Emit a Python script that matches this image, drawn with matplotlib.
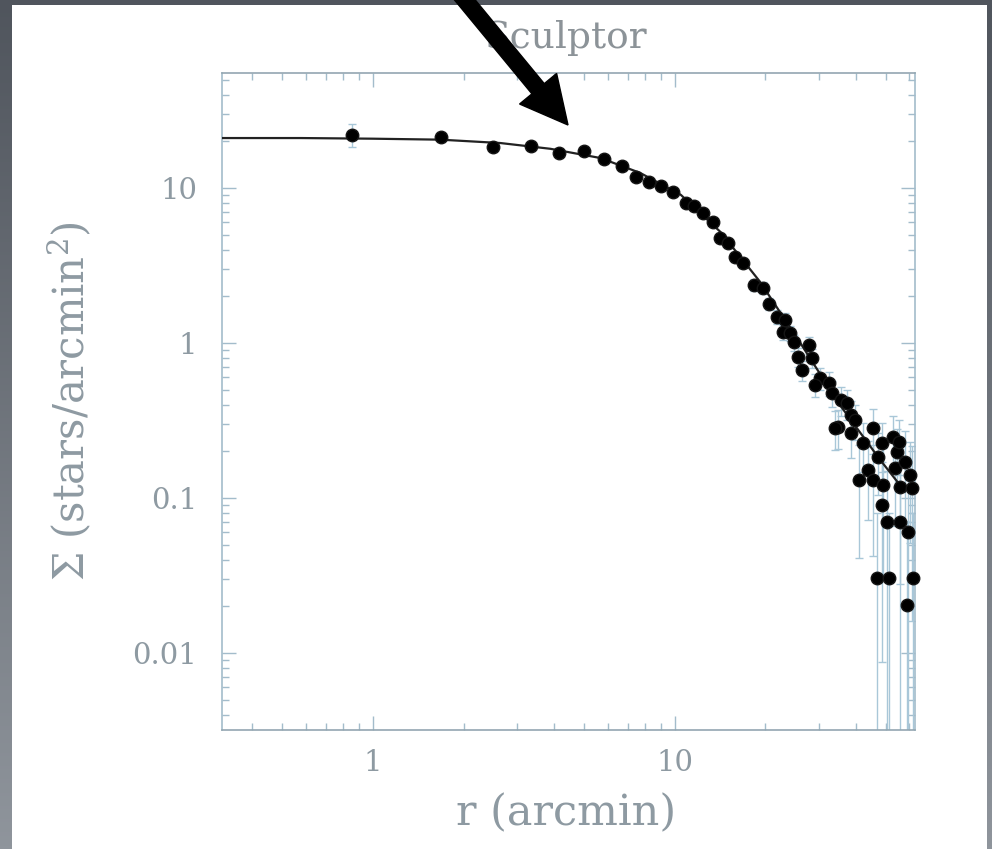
import numpy as np
import matplotlib
matplotlib.use("Agg")
import matplotlib.pyplot as plt
from matplotlib.patches import Rectangle, FancyArrow
from matplotlib.ticker import LogLocator, NullFormatter

# surface density profile points (r in arcmin, sigma in stars/arcmin^2)
r_pts = [0.852, 1.68, 2.50, 3.34, 4.13, 5.00, 5.82, 6.68, 7.43, 8.20,
         8.99, 9.85, 10.9, 11.6, 12.4, 13.4, 14.2, 15.0, 15.9, 16.9,
         18.3, 19.6, 20.5, 21.9, 22.8, 24.2, 23.3, 24.8, 27.8, 25.7,
         28.6, 26.5, 30.4, 29.3, 32.4, 33.3, 35.5, 37.4, 38.3, 34.9,
         39.7, 38.3, 42.0, 45.3, 48.8, 53.1, 54.7, 47.3, 34.1, 55.2,
         43.9, 40.7, 45.6, 49.2, 53.9, 58.2, 60.4, 56.0, 61.4, 48.8,
         50.7, 56.0, 59.5, 47.0, 51.2, 61.8, 59.1]
sigma_pts = [22.0, 21.3, 18.4, 18.7, 16.8, 17.3, 15.4, 13.9, 11.8, 10.9,
             10.3, 9.43, 8.00, 7.65, 6.90, 6.04, 4.76, 4.42, 3.59, 3.28,
             2.37, 2.26, 1.79, 1.47, 1.18, 1.16, 1.41, 1.01, 0.971, 0.813,
             0.800, 0.670, 0.594, 0.536, 0.552, 0.476, 0.428, 0.410, 0.343, 0.287,
             0.318, 0.262, 0.226, 0.283, 0.226, 0.248, 0.198, 0.184, 0.283, 0.230,
             0.152, 0.131, 0.131, 0.121, 0.156, 0.171, 0.141, 0.118, 0.116, 0.0902,
             0.0700, 0.0700, 0.0604, 0.0305, 0.0305, 0.0305, 0.0204]
sigma_err = [3.7, 1.2, 0.9, 0.9, 0.8, 0.8, 0.7, 0.7, 0.6, 0.6,
             0.5, 0.5, 0.45, 0.45, 0.4, 0.35, 0.3, 0.3, 0.25, 0.25,
             0.2, 0.2, 0.17, 0.15, 0.13, 0.13, 0.14, 0.12, 0.12, 0.11,
             0.11, 0.10, 0.10, 0.09, 0.10, 0.09, 0.09, 0.09, 0.08, 0.08,
             0.08, 0.08, 0.08, 0.09, 0.08, 0.09, 0.08, 0.08, 0.08, 0.09,
             0.08, 0.09, 0.089, 0.09, 0.09, 0.10, 0.09, 0.09, 0.10, 0.0815,
             0.08, 0.09, 0.09, 0.05, 0.05, 0.05, 0.05]

# fitted profile
r_fit = [0.318, 0.578, 1.0, 1.68, 2.65, 3.88, 5.69, 7.70, 10.5, 14.2,
         19.2, 26.1, 35.3, 48.0, 58.0]
sigma_fit = [21.0, 21.0, 20.8, 20.5, 19.5, 17.9, 15.6, 12.5, 9.02, 5.20,
             2.48, 1.00, 0.398, 0.176, 0.11]

x_ticks = [1, 10]
x_ticklabels = ["1", "10"]
y_ticks = [0.01, 0.1, 1, 10]
y_ticklabels = ["0.01", "0.1", "1", "10"]

W, H = 992, 849
fig = plt.figure(figsize=(W / 100, H / 100), dpi=100)
plt.rcParams['mathtext.fontset'] = 'dejavuserif'

# slide background
bg = fig.add_axes([0, 0, 1, 1], zorder=0)
grad = np.linspace(0, 1, 256).reshape(-1, 1)
bg.imshow(grad, extent=(0, W, H, 0), aspect='auto',
          cmap=matplotlib.colors.LinearSegmentedColormap.from_list("g", ["#50555d", "#8f959c"]))
bg.add_patch(Rectangle((12, 5), 975, H, facecolor="white", edgecolor="none"))
bg.set_xlim(0, W)
bg.set_ylim(H, 0)
bg.axis("off")

tick_col = "#a3bccb"
text_col = "#8e9aa2"

ax = fig.add_axes([222 / W, 1 - 730 / H, 693 / W, 657 / H], zorder=1)
ax.set_xscale("log")
ax.set_yscale("log")

err = np.array(sigma_err)
sig = np.array(sigma_pts)
lo = np.minimum(err, sig - 1e-4)
ax.errorbar(r_pts, sigma_pts, yerr=[lo, err], fmt="none", ecolor="#a9c7d8",
            elinewidth=1.0, capsize=3, capthick=1.0, zorder=2)
ax.plot(r_fit, sigma_fit, color="#222222", lw=1.6, zorder=3)
ax.plot(r_pts, sigma_pts, "o", color="black", ms=9, mec="#151515", zorder=4, clip_on=False)

ax.set_xlim(0.317, 62.6)
ax.set_ylim(0.00318, 55.2)

ax.set_xticks(x_ticks)
ax.set_xticklabels(x_ticklabels)
ax.set_yticks(y_ticks)
ax.set_yticklabels(y_ticklabels)
ax.xaxis.set_minor_locator(LogLocator(subs=np.arange(2, 10)))
ax.yaxis.set_minor_locator(LogLocator(subs=np.arange(2, 10)))
ax.xaxis.set_minor_formatter(NullFormatter())
ax.yaxis.set_minor_formatter(NullFormatter())

ax.tick_params(which="both", direction="in", top=True, right=True, color=tick_col, width=1.0)
ax.tick_params(which="major", length=10)
ax.tick_params(which="minor", length=5)
ax.tick_params(axis="x", which="major", pad=14, labelsize=21, labelcolor=text_col)
ax.tick_params(axis="y", which="major", pad=18, labelsize=21, labelcolor=text_col)
for lab in ax.get_xticklabels() + ax.get_yticklabels():
    lab.set_family("DejaVu Serif")
for s in ax.spines.values():
    s.set_color(tick_col)
    s.set_linewidth(1.2)
ax.spines["bottom"].set_color("#93a6b1")
ax.spines["top"].set_color("#93a6b1")

ax.set_xlabel("r (arcmin)", fontsize=31, family="DejaVu Serif", color=text_col)
ax.set_ylabel(r"$\Sigma$ (stars/arcmin$^2$)", fontsize=30, family="DejaVu Serif", color=text_col)
ax.xaxis.set_label_coords(0.497, -0.095)
ax.yaxis.set_label_coords(-0.185, 0.5)

fig.text(566 / W, 1 - 38 / H, "Sculptor", ha="center", va="center",
         fontsize=27, family="DejaVu Serif", color="#8c9398")

# black arrow drawn over everything
top = fig.add_axes([0, 0, 1, 1], zorder=5)
top.set_xlim(0, W)
top.set_ylim(H, 0)
top.patch.set_alpha(0)
top.axis("off")
top.add_patch(FancyArrow(455, -12, 113, 137, width=16, head_width=48, head_length=47,
                         length_includes_head=True, color="black"))

fig.savefig("out.png", dpi=100)
